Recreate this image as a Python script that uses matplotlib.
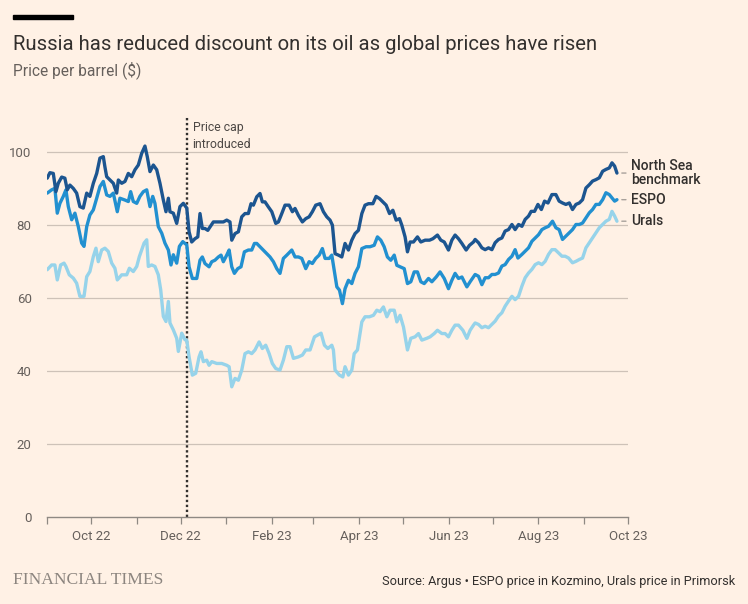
import numpy as np
import matplotlib
matplotlib.use("Agg")
import matplotlib.pyplot as plt
import matplotlib.dates as mdates

start = np.datetime64("2022-09-01")
cap_date = np.datetime64("2022-12-05")

# days since 1 Sep 2022, price $/barrel
ns_days = [0.2, 2.0, 4.3, 6.1, 7.7, 10.0, 12.2, 13.8, 15.6, 17.9, 20.2, 22.4, 24.7, 27.0, 29.2, 31.5, 33.8, 36.0,
           38.3, 39.4, 40.6, 42.8, 45.1, 47.4, 48.5, 50.8, 53.0, 55.3, 57.6, 59.8, 62.1, 64.4, 66.6, 68.2, 70.0, 72.3,
           74.6, 76.8, 79.1, 80.9, 82.5, 83.6, 85.9, 88.2, 90.4, 92.7, 95.0, 96.6, 98.4, 100.6, 102.5, 104.0, 105.6,
           107.4, 109.3, 110.8, 113.1, 116.5, 119.9, 122.2, 124.4, 125.6, 127.8, 130.1, 132.4, 134.6, 136.9, 138.7,
           140.3, 142.6, 144.8, 146.4, 148.2, 150.5, 152.8, 155.5, 157.3, 159.6, 161.8, 164.6, 166.8, 168.6, 170.9,
           173.6, 175.9, 178.2, 180.4, 182.7, 185.6, 187.9, 190.2, 192.4, 194.0, 195.8, 198.1, 200.4, 202.6, 204.9,
           207.2, 209.4, 211.7, 214.0, 216.2, 218.5, 221.5, 223.7, 226.0, 228.3, 230.5, 232.8, 235.1, 237.3, 239.6,
           241.2, 243.4, 245.0, 246.8, 249.1, 251.8, 254.1, 257.0, 260.0, 262.3, 265.4, 267.7, 270.0, 272.9, 275.2,
           277.4, 279.7, 282.0, 284.9, 287.2, 289.9, 291.0, 293.3, 295.6, 297.8, 300.1, 302.4, 304.6, 306.9, 309.2,
           311.4, 313.7, 316.0, 318.2, 320.5, 322.8, 325.0, 327.3, 329.1, 331.4, 333.7, 336.0, 338.2, 340.5, 343.2,
           345.9, 348.1, 350.4, 352.7, 355.0, 357.2, 359.5, 361.8, 364.0, 366.3, 368.6, 370.8, 373.1, 375.4, 377.7,
           379.9, 382.2, 384.0, 385.8, 387.4]
ns_vals = [92.9, 94.4, 94.2, 89.2, 91.5, 93.2, 92.9, 89.7, 91.0, 90.1, 88.8, 85.1, 84.7, 88.8, 87.9, 91.5, 94.2, 98.4,
           98.8, 96.0, 93.3, 92.4, 91.5, 88.8, 92.4, 91.5, 92.0, 94.2, 93.3, 95.2, 96.5, 99.7, 101.7, 98.8, 94.7, 96.5,
           95.2, 91.5, 86.9, 83.7, 87.4, 83.7, 83.3, 80.5, 85.1, 86.0, 84.7, 78.2, 75.4, 76.3, 76.8, 83.2, 79.1,
           79.1, 78.6, 79.5, 80.9, 80.9, 80.9, 81.4, 80.9, 75.9, 77.7, 78.2, 82.3, 83.2, 83.2, 85.9,
           85.5, 87.8, 88.7, 86.4, 86.4, 85.0, 83.7, 80.5, 80.9, 83.2, 85.5, 85.5, 83.7, 84.6, 82.7,
           80.9, 81.8, 82.3, 83.7, 85.5, 85.9, 83.7, 82.3, 81.4, 80.0, 72.2, 71.8, 71.3, 75.0, 73.2,
           75.9, 77.7, 78.6, 83.2, 85.5, 85.9, 85.9, 87.9, 87.3, 86.4, 85.5, 83.2, 84.1, 81.4, 81.8,
           80.0, 76.8, 72.7, 75.4, 75.4, 76.8, 75.4, 75.9, 75.9, 76.3, 77.3, 75.9, 75.4, 73.2, 75.9,
           77.3, 76.3, 75.0, 73.2, 74.5, 75.4, 76.1, 75.2, 73.8, 73.3, 73.8, 73.3, 75.2, 76.1, 76.5,
           78.4, 78.8, 80.2, 78.8, 80.2, 79.7, 81.6, 82.5, 83.8, 83.8, 85.7, 84.3, 86.6, 86.1, 88.4,
           88.4, 86.6, 86.1, 85.7, 86.1, 84.3, 85.7, 86.1, 87.0, 90.2, 91.1, 92.1, 92.5, 93.0, 94.8,
           95.3, 95.7, 97.1, 96.2, 94.3]

espo_days = [0.2, 3.2, 5.4, 7.0, 8.8, 11.1, 12.9, 14.5, 16.8, 19.0, 21.3, 23.6, 25.2, 27.0, 29.2, 31.5, 33.8, 36.0,
             38.3, 40.6, 42.8, 45.1, 47.8, 49.6, 53.0, 55.3, 56.9, 58.7, 61.0, 63.2, 65.5, 67.8, 70.0, 71.9, 73.4,
             75.7, 78.0, 80.2, 82.5, 84.3, 85.9, 88.2, 90.0, 92.3, 95.0, 96.6, 98.8, 101.8, 104.0, 105.6, 107.4,
             110.2, 112.0, 114.2, 116.5, 118.3, 119.9, 122.2, 123.8, 125.6, 127.4, 129.7, 131.9, 134.2, 136.9, 139.2,
             141.0, 142.6, 144.8, 148.2, 151.6, 153.9, 156.2, 158.4, 160.7, 163.0, 166.4, 168.6, 170.9, 173.2, 175.9,
             178.2, 180.4, 182.7, 185.0, 187.2, 189.0, 191.8, 193.6, 197.0, 198.8, 200.8, 202.6, 204.9, 207.2, 209.4,
             211.7, 214.0, 216.9, 219.6, 222.4, 224.6, 226.9, 229.2, 231.4, 233.7, 236.0, 237.8, 240.0, 242.8, 245.0,
             247.3, 249.6, 251.8, 254.1, 256.4, 259.3, 261.6, 264.5, 267.2, 270.0, 272.9, 275.2, 277.4, 279.7, 282.0,
             285.4, 287.6, 291.0, 293.3, 295.6, 297.8, 300.1, 302.4, 304.6, 306.9, 309.2, 311.4, 313.7, 316.0, 318.2,
             320.1, 322.8, 325.0, 327.3, 329.6, 331.8, 334.1, 336.4, 338.6, 340.9, 343.6, 345.9, 348.1, 350.4, 352.7,
             355.0, 357.2, 359.5, 361.8, 364.0, 366.3, 368.6, 370.8, 373.1, 375.4, 377.7, 379.9, 382.2, 384.0, 385.8,
             387.4]
espo_vals = [88.8, 89.7, 90.1, 83.3, 86.0, 87.9, 89.7, 85.1, 81.5, 83.3, 79.6, 75.1, 74.2, 79.6, 82.8, 84.2, 87.4, 90.6,
             92.0, 88.3, 87.9, 88.8, 83.7, 87.4, 86.9, 86.5, 89.2, 86.5, 86.0, 87.9, 89.2, 89.7, 85.1, 87.9, 86.0,
             79.6, 77.8, 75.1, 73.2, 69.1, 71.9, 69.6, 74.2, 75.5, 74.6, 68.6, 65.4, 65.4, 70.4, 71.3, 69.5,
             68.6, 70.0, 70.4, 71.3, 71.8, 70.0, 71.8, 73.2, 68.6, 66.8, 68.1, 68.6, 72.7, 73.2, 73.2,
             75.0, 75.0, 74.1, 72.7, 71.3, 70.0, 68.1, 66.8, 70.9, 71.8, 73.2, 71.3, 71.3, 70.9, 68.1,
             70.0, 69.5, 70.9, 71.8, 73.6, 70.9, 70.9, 71.8, 63.1, 62.2, 58.5, 62.6, 64.9, 64.0, 66.8,
             68.6, 73.6, 74.1, 74.1, 74.5, 76.8, 75.9, 74.1, 71.3, 70.4, 71.8, 69.0, 68.6, 68.1, 64.0,
             64.5, 67.2, 67.2, 64.5, 64.0, 65.4, 64.5, 65.8, 67.2, 65.4, 62.6, 64.9, 66.8, 65.4, 65.8,
             63.1, 64.5, 66.5, 66.0, 63.7, 65.6, 65.6, 66.5, 66.5, 66.9, 68.8, 69.2, 70.6, 71.5, 73.3,
             71.0, 72.0, 72.9, 73.8, 75.6, 76.5, 77.4, 78.8, 79.3, 79.7, 81.1, 79.3, 78.8, 76.1, 77.0,
             77.9, 78.8, 80.2, 80.2, 80.6, 82.0, 83.4, 84.3, 85.7, 85.7, 87.0, 88.9, 88.4, 87.5, 86.6,
             87.0]

urals_days = [0.2, 3.2, 5.4, 7.0, 9.3, 11.6, 12.9, 15.2, 17.9, 20.2, 22.4, 25.2, 27.0, 29.2, 31.5, 33.3, 34.9, 37.2,
              39.4, 41.7, 44.0, 46.2, 47.8, 50.8, 54.2, 56.0, 58.7, 61.0, 62.8, 64.4, 66.0, 67.8, 68.9, 71.2, 73.4,
              75.7, 77.3, 79.1, 80.9, 82.5, 83.6, 85.9, 88.2, 89.3, 91.6, 93.8, 95.0, 96.6, 98.8, 101.1, 103.4,
              104.7, 106.3, 108.6, 110.2, 112.0, 115.4, 118.8, 122.2, 123.8, 125.6, 127.8, 130.1, 132.4, 134.6, 136.9,
              139.2, 141.4, 144.2, 146.4, 148.7, 151.0, 153.2, 155.5, 158.4, 160.7, 163.0, 165.2, 167.5, 170.9, 173.6,
              175.9, 178.8, 181.8, 184.1, 186.3, 188.6, 190.9, 193.6, 194.7, 195.8, 198.8, 201.1, 202.6, 204.9, 207.2,
              208.8, 211.0, 214.0, 216.2, 219.2, 221.9, 224.2, 226.4, 228.7, 231.0, 233.2, 236.0, 237.8, 240.0, 242.3,
              245.0, 247.3, 250.2, 252.5, 254.8, 258.2, 260.4, 263.2, 265.4, 268.4, 270.6, 272.9, 275.2, 277.4, 279.7,
              282.7, 285.4, 287.6, 289.9, 291.0, 293.3, 295.6, 297.8, 300.1, 302.4, 304.6, 306.9, 309.2, 311.4, 313.7,
              316.0, 318.2, 320.5, 322.8, 325.0, 327.3, 329.6, 331.8, 334.1, 336.4, 338.6, 340.9, 343.2, 345.4, 347.7,
              350.0, 352.2, 354.5, 357.2, 359.5, 361.8, 364.0, 366.3, 368.6, 370.8, 373.1, 375.4, 377.7, 379.9, 382.2,
              384.0, 385.8, 387.4]
urals_vals = [67.8, 69.1, 69.1, 65.0, 69.1, 69.6, 68.7, 66.4, 65.5, 64.1, 60.5, 60.5, 65.9, 67.3, 71.4, 73.7, 70.0, 73.2,
              73.7, 72.8, 69.6, 68.2, 65.0, 66.4, 66.4, 68.2, 67.3, 68.7, 71.4, 73.2, 75.1, 76.0, 68.7, 69.1, 68.7,
              66.4, 62.3, 55.0, 53.6, 59.1, 53.2, 51.3, 49.0, 45.4, 50.4, 48.6, 48.5, 43.9, 38.9, 39.4, 43.9,
              45.3, 42.6, 43.0, 41.6, 42.6, 42.1, 42.1, 41.6, 41.2, 35.7, 38.0, 37.5, 40.3, 44.8, 45.3,
              44.8, 45.8, 48.0, 46.2, 47.1, 44.8, 42.1, 40.7, 40.3, 43.0, 46.7, 46.7, 43.5, 43.9, 44.4,
              45.8, 45.8, 49.4, 49.9, 50.4, 47.1, 46.2, 47.1, 45.8, 40.3, 38.9, 38.4, 41.2, 38.9, 40.3,
              44.8, 45.8, 53.5, 54.9, 54.9, 55.3, 56.7, 56.3, 57.6, 54.9, 56.7, 56.7, 53.5, 55.3, 52.1,
              45.8, 49.0, 49.4, 50.3, 48.5, 49.0, 49.4, 50.3, 51.2, 50.3, 50.3, 49.4, 51.2, 52.6, 52.6,
              51.2, 49.0, 51.2, 52.6, 53.2, 52.8, 51.9, 52.3, 51.9, 52.8, 53.7, 55.1, 56.0, 57.8, 59.2,
              60.5, 59.6, 60.5, 63.3, 65.6, 66.9, 67.9, 69.2, 69.7, 69.2, 70.1, 72.0, 73.3, 73.3, 72.4,
              71.5, 71.5, 71.0, 69.7, 70.1, 70.6, 71.0, 73.8, 75.2, 76.5, 77.9, 79.3, 80.2, 81.1, 81.6,
              83.8, 82.5, 81.1]

series = [
    ("Urals", urals_days, urals_vals, "#96d3ea"),
    ("ESPO", espo_days, espo_vals, "#2290d0"),
    ("North Sea\nbenchmark", ns_days, ns_vals, "#1c5590"),
]

bg = "#fff1e5"
grey_txt = "#66605c"
dark_txt = "#33302e"


def to_dates(days):
    return start + (np.array(days) * 24).astype("timedelta64[h]")


plt.rcParams["font.family"] = ["Roboto", "DejaVu Sans"]

fig = plt.figure(figsize=(7.48, 6.04), dpi=100, facecolor=bg)
ax = fig.add_axes([0.0628, 0.144, 0.777, 0.6643], facecolor=bg)

for name, days, vals, col in series:
    x = to_dates(days)
    ax.plot(x, vals, color=col, lw=2.4, solid_joinstyle="round", solid_capstyle="round", zorder=3)
    ax.annotate(name, xy=(x[-1], vals[-1]), xytext=(10, 0), textcoords="offset points",
                ha="left", va="center", fontsize=10, fontweight="medium", color=dark_txt,
                linespacing=1.0, annotation_clip=False,
                arrowprops=dict(arrowstyle="-", color="#a8a19b", lw=1.0, shrinkA=1.5, shrinkB=3.5,
                                relpos=(0, 0.5)))

ax.axvline(cap_date, color="#33302e", lw=1.7, ls=(0, (1, 1.1)), zorder=2)
ax.text(cap_date + np.timedelta64(4, "D"), 108.5, "Price cap\nintroduced", fontsize=8.8, color="#4d4845",
        va="top", ha="left", linespacing=1.35)

ax.set_xlim(np.datetime64("2022-09-01"), np.datetime64("2023-10-01"))
ax.set_ylim(0, 110)
ax.set_yticks([0, 20, 40, 60, 80, 100])
ax.yaxis.grid(True, color="#cec2b8", lw=0.9)
ax.set_axisbelow(True)

ax.xaxis.set_major_locator(mdates.MonthLocator(bymonth=[2, 4, 6, 8, 10, 12]))
ax.xaxis.set_minor_locator(mdates.MonthLocator(bymonth=[1, 3, 5, 7, 9, 11]))
ax.xaxis.set_major_formatter(mdates.DateFormatter("%b %y"))

for s in ["top", "right", "left"]:
    ax.spines[s].set_visible(False)
ax.spines["bottom"].set_color("#8f8983")
ax.spines["bottom"].set_linewidth(1.0)

ax.tick_params(axis="y", length=0, pad=11, labelsize=9.5, labelcolor=grey_txt)
ax.tick_params(axis="x", which="both", length=5, width=0.9, color="#8f8983", direction="out",
               labelsize=9.5, labelcolor=grey_txt, pad=4)
ax.yaxis.get_gridlines()[0].set_visible(False)

# header
fig.patches.append(plt.Rectangle((13 / 748, 1 - 19 / 604), 60 / 748, 4 / 604, transform=fig.transFigure,
                                 color="black", zorder=5))
fig.text(13 / 748, 1 - 44 / 604, "Russia has reduced discount on its oil as global prices have risen",
         fontsize=14.6, color=dark_txt, va="center", ha="left")
fig.text(13 / 748, 1 - 70 / 604, "Price per barrel ($)", fontsize=11.2, color=grey_txt, va="center", ha="left")

# footer
fig.text(13 / 748, 1 - 580 / 604, "FINANCIAL TIMES", fontsize=12.6, family="Liberation Serif", color="#8c857f",
         va="center", ha="left")
fig.text(735 / 748, 1 - 582 / 604, "Source: Argus \u2022 ESPO price in Kozmino, Urals price in Primorsk",
         fontsize=9.2, color=dark_txt, va="center", ha="right")

fig.savefig("out.png", dpi=100, facecolor=bg)
